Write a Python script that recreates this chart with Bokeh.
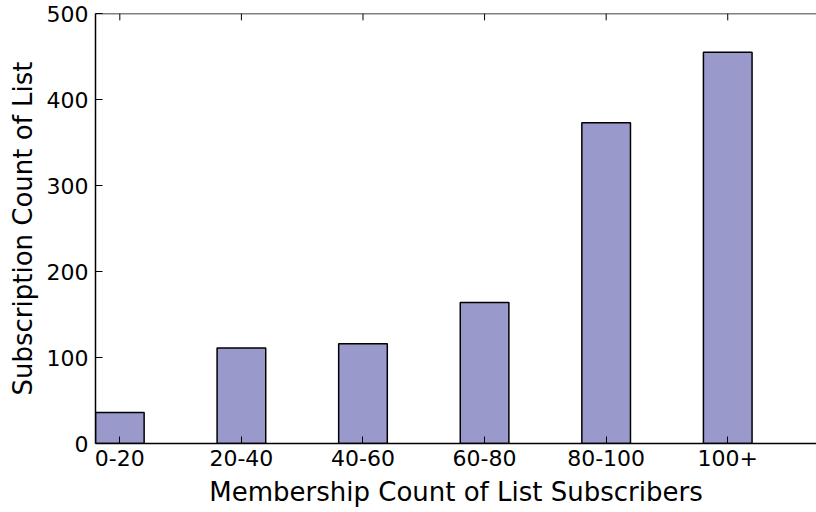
from bokeh.plotting import figure
from bokeh.models import FixedTicker, LinearAxis, Range1d, Span
from bokeh.embed import file_html
from bokeh.resources import INLINE

categories = ["0-20", "20-40", "40-60", "60-80", "80-100", "100+"]
counts = [36, 111, 116, 164, 373, 455]
y_ticks = [0, 100, 200, 300, 400, 500]

bar_width = 0.4
lefts = list(range(len(categories)))
centers = [l + bar_width / 2 for l in lefts]

FONT = "DejaVu Sans"
Y_MAX = 500
TOP_TICK_LEN = 8  # in data units (~7px)

p = figure(width=816, height=512, output_backend="svg", toolbar_location=None,
           x_range=Range1d(0, 5.93), y_range=Range1d(0, Y_MAX),
           min_border_left=95, min_border_right=0, min_border_top=13, min_border_bottom=69,
           x_axis_location=None, y_axis_location=None)
p.grid.visible = False
p.outline_line_color = None
p.background_fill_color = "white"
p.border_fill_color = "white"

p.vbar(x=centers, top=counts, bottom=0, width=bar_width,
       fill_color="#9999cc", line_color="black", line_width=1.5)

# top spine and its inward ticks
p.add_layout(Span(location=Y_MAX, dimension="width", line_color="black", line_width=1.5))
p.segment(x0=centers, y0=[Y_MAX] * len(centers), x1=centers,
          y1=[Y_MAX - TOP_TICK_LEN] * len(centers), line_color="black", line_width=1)

xb = LinearAxis(ticker=FixedTicker(ticks=centers),
                major_label_overrides={c: lab for c, lab in zip(centers, categories)},
                axis_label="Membership Count of List Subscribers")
yl = LinearAxis(ticker=FixedTicker(ticks=y_ticks), axis_label="Subscription Count of List")

for ax in (xb, yl):
    ax.major_tick_in = 7
    ax.major_tick_out = 0
    ax.minor_tick_line_color = None
    ax.axis_line_color = "black"
    ax.axis_line_width = 1.5
    ax.major_tick_line_color = "black"
    ax.major_tick_line_width = 1
    ax.major_label_text_font = FONT
    ax.major_label_text_font_size = "22px"
    ax.major_label_text_color = "black"
    ax.axis_label_text_font = FONT
    ax.axis_label_text_font_size = "26px"
    ax.axis_label_text_font_style = "normal"
    ax.axis_label_text_color = "black"

xb.major_label_standoff = 6
xb.axis_label_standoff = 8
yl.major_label_standoff = 7
yl.axis_label_standoff = 6

p.add_layout(xb, "below")
p.add_layout(yl, "left")

open("out.html", "w").write(file_html(p, INLINE))
